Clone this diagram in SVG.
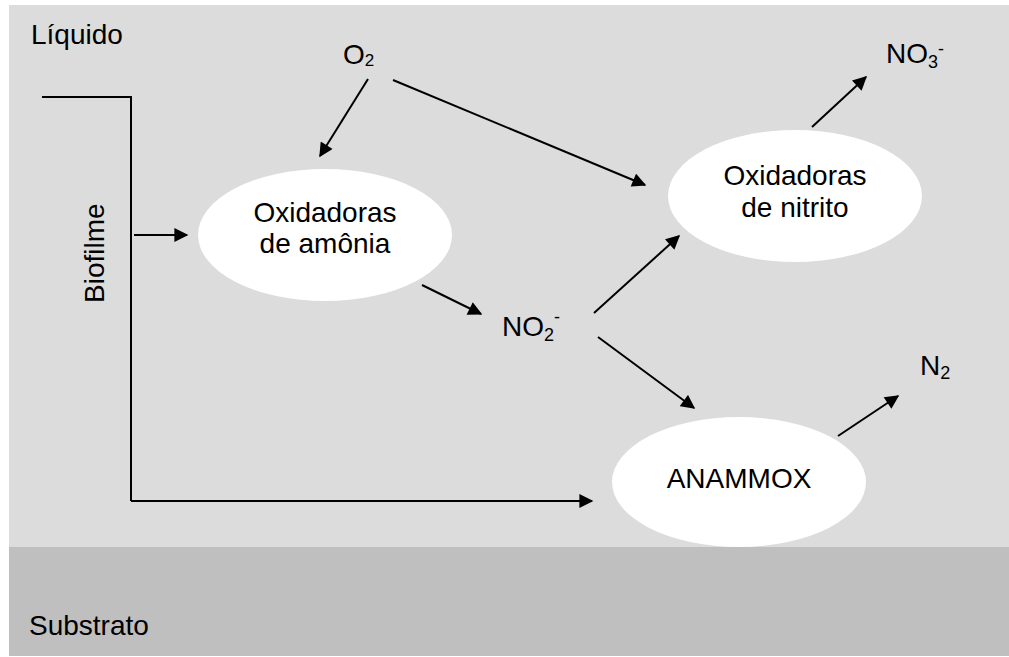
<svg xmlns="http://www.w3.org/2000/svg" width="1009" height="657" viewBox="0 0 1009 657">
<defs>
<style>
.t{font-family:"Liberation Sans",Arial,sans-serif;font-size:28px;fill:#000}
.s{font-size:18px}
.c{text-anchor:middle}
.ln{stroke:#000;stroke-width:2;fill:none}
.ar{stroke:#000;stroke-width:2;fill:none;marker-end:url(#ah)}
.el{fill:#fff}
</style>
<marker id="ah" viewBox="0 0 10 10" refX="9" refY="5" markerWidth="7.5" markerHeight="7" markerUnits="strokeWidth" orient="auto">
<path d="M0,0 L10,5 L0,10 z" fill="#000"/>
</marker>
</defs>
<rect x="0" y="0" width="1009" height="657" fill="#fff"/>
<g id="liquido">
<rect x="9" y="5" width="1000" height="542" fill="#dcdcdc"/>
<text class="t" x="31" y="44">Líquido</text>
</g>
<g id="substrato">
<rect x="9" y="547" width="1000" height="109" fill="#bfbfbf"/>
<text class="t" x="29" y="635">Substrato</text>
</g>
<g id="biofilme">
<text class="t" transform="translate(104,303) rotate(-90)">Biofilme</text>
</g>
<g id="connectors">
<path class="ln" d="M42,97 H131 V501"/>
<line class="ar" x1="131" y1="501" x2="592" y2="501"/>
<line class="ar" x1="134" y1="235" x2="187" y2="235"/>
<line class="ar" x1="368" y1="79" x2="320" y2="156"/>
<line class="ar" x1="393" y1="80" x2="645" y2="185"/>
<line class="ar" x1="422" y1="285" x2="481" y2="314"/>
<line class="ar" x1="594" y1="313" x2="679" y2="236"/>
<line class="ar" x1="598" y1="337" x2="694" y2="408"/>
<line class="ar" x1="812" y1="127" x2="866" y2="77"/>
<line class="ar" x1="838" y1="436" x2="898" y2="396"/>
</g>
<g id="o2">
<text class="t" x="343" y="64">O<tspan font-size="17" dy="2">2</tspan></text>
</g>
<g id="amonia">
<ellipse class="el" cx="325" cy="235" rx="127" ry="66"/>
<text class="t c" x="325" y="222">Oxidadoras</text>
<text class="t c" x="325" y="253">de amônia</text>
</g>
<g id="nitrito">
<ellipse class="el" cx="795" cy="196" rx="127" ry="66"/>
<text class="t c" x="795" y="185">Oxidadoras</text>
<text class="t c" x="795" y="217">de nitrito</text>
</g>
<g id="anammox">
<ellipse class="el" cx="739" cy="482" rx="127" ry="65"/>
<text class="t c" x="739" y="488">ANAMMOX</text>
</g>
<g id="no2">
<text class="t" x="502" y="336">NO<tspan class="s" dy="5">2</tspan><tspan class="s" dy="-18">-</tspan></text>
</g>
<g id="no3">
<text class="t" x="886" y="63">NO<tspan class="s" dy="5">3</tspan><tspan class="s" dy="-13">-</tspan></text>
</g>
<g id="n2">
<text class="t" x="920" y="375">N<tspan class="s" dy="4">2</tspan></text>
</g>
</svg>
